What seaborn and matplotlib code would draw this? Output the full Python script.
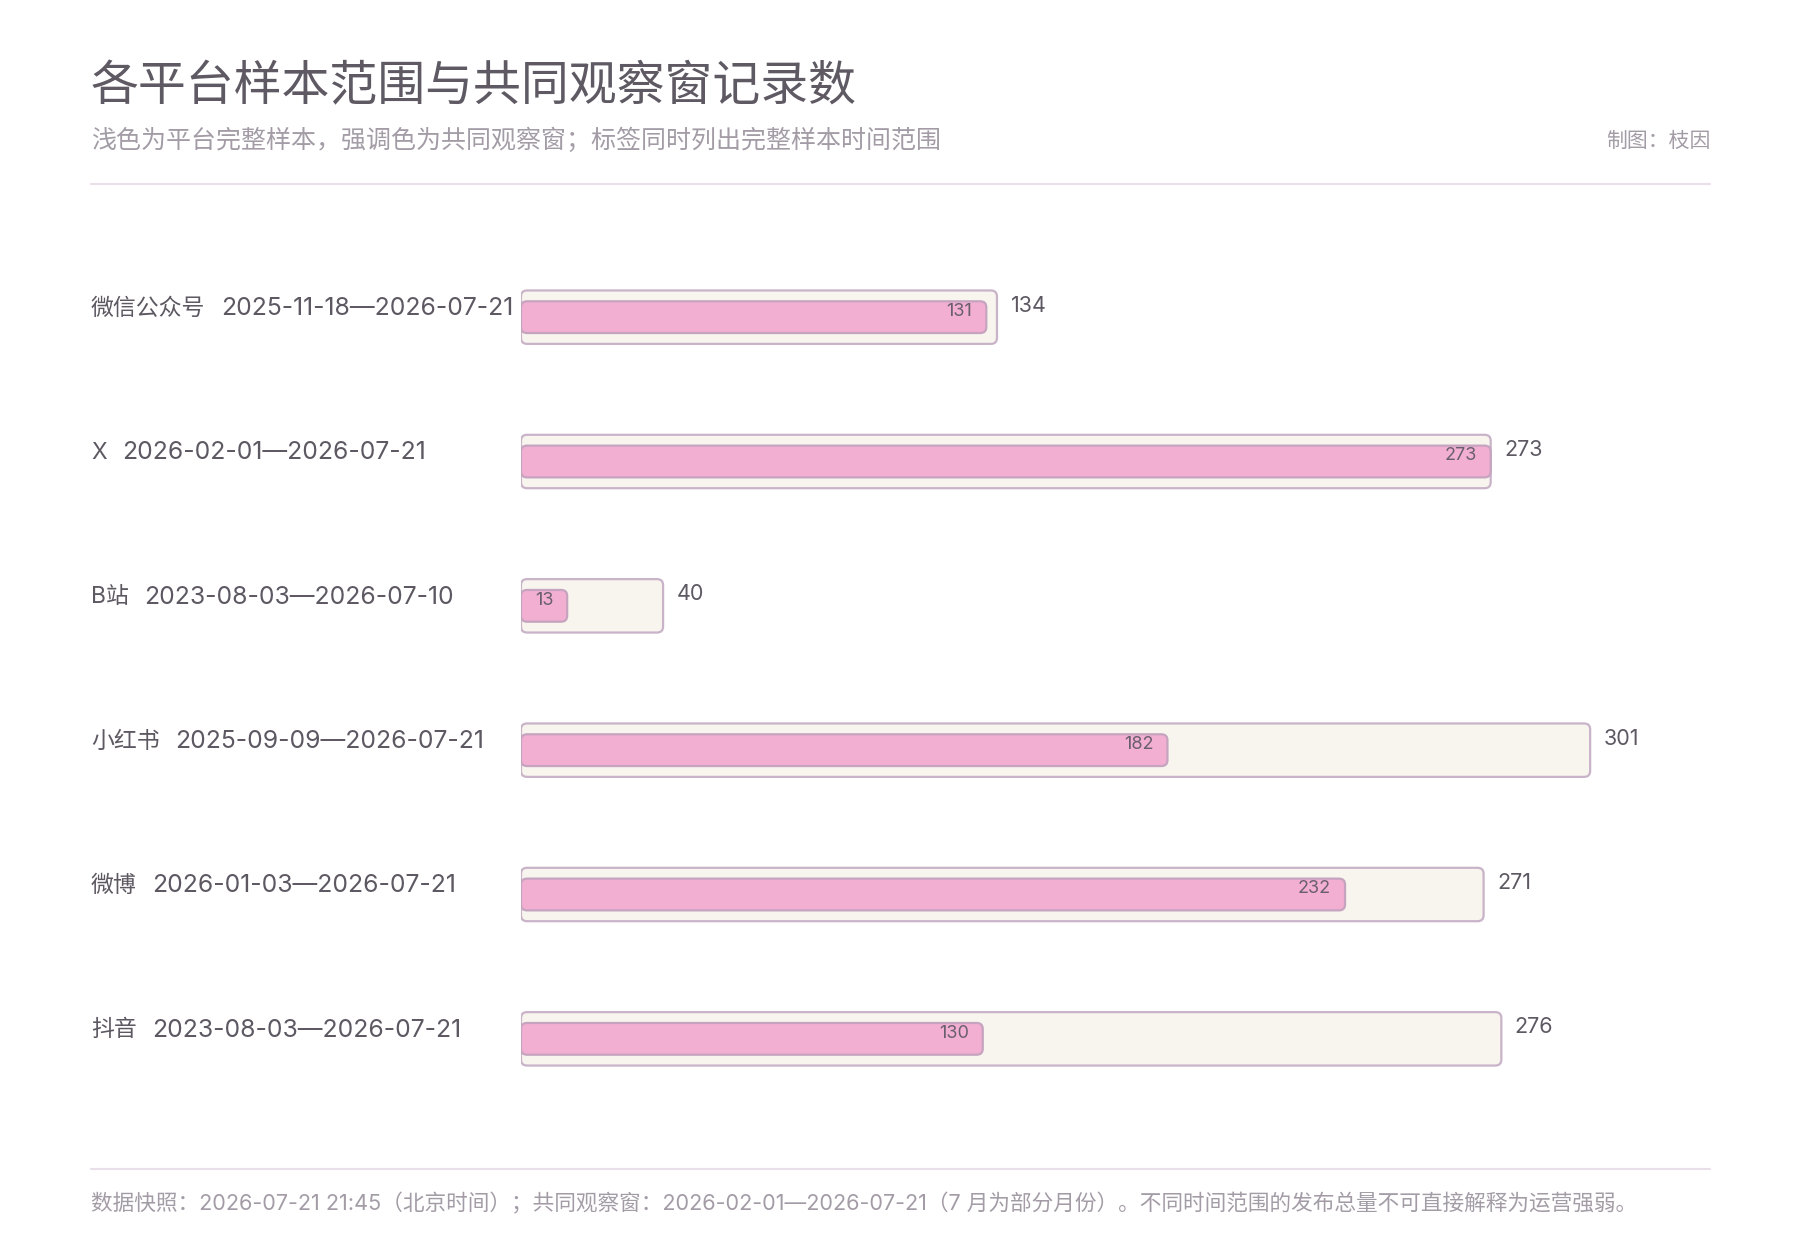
import numpy as np
import pandas as pd
import seaborn as sns
import matplotlib.pyplot as plt
from matplotlib.patches import FancyBboxPatch
import matplotlib.transforms as mtransforms

# данные
platforms = ['微信公众号', 'X', 'B站', '小红书', '微博', '抖音']
date_ranges = ['2025-11-18—2026-07-21', '2026-02-01—2026-07-21', '2023-08-03—2026-07-10',
               '2025-09-09—2026-07-21', '2026-01-03—2026-07-21', '2023-08-03—2026-07-21']
total_counts = [134, 273, 40, 301, 271, 276]
common_counts = [131, 273, 13, 182, 232, 130]

title = '各平台样本范围与共同观察窗记录数'
subtitle = '浅色为平台完整样本，强调色为共同观察窗；标签同时列出完整样本时间范围'
credit = '制图：枝因'
footer = ('数据快照：2026-07-21 21:45（北京时间）；共同观察窗：2026-02-01—2026-07-21'
          '（7 月为部分月份）。不同时间范围的发布总量不可直接解释为运营强弱。')

sns.set_style('white')
plt.rcParams['font.family'] = ['Noto Sans CJK SC', 'DejaVu Sans']
# цифры шире, как в оригинале
mixed = ['Inter', 'Noto Sans CJK SC', 'DejaVu Sans']

df = pd.DataFrame({'platform': platforms, 'total': total_counts, 'common': common_counts})

fig = plt.figure(figsize=(18, 12.6), dpi=100)
ax = fig.add_axes([521 / 1800, 1 - 1111 / 1260, (1710 - 521) / 1800, 866 / 1260])

light_fill, light_edge = '#f8f5ee', '#c9b3c9'
pink_fill, pink_edge = '#f2afd2', '#c6a4c0'

sns.barplot(data=df, x='total', y='platform', ax=ax, width=0.37, color=light_fill, orient='h')
n_light = len(ax.patches)
sns.barplot(data=df, x='common', y='platform', ax=ax, width=0.22, color=pink_fill, orient='h')

ax.set_xlim(0, 1189 / 3.552)
ax.set_ylim(5.5, -0.5)

# скруглённые прямоугольники вместо обычных
r = 1.7
aspect = (6 / 144.4) / r
old = list(ax.patches)
for i, p in enumerate(old):
    x, y = p.get_x(), p.get_y()
    w, h = p.get_width(), p.get_height()
    light = i < n_light
    fb = FancyBboxPatch((x, y), w, h, boxstyle=f'round,pad=0,rounding_size={r}',
                        mutation_aspect=aspect,
                        facecolor=light_fill if light else pink_fill,
                        edgecolor=light_edge if light else pink_edge,
                        linewidth=1.6, zorder=2 if light else 3)
    p.remove()
    ax.add_patch(fb)

ax.axis('off')

text_col = '#5d5862'
trans = mtransforms.blended_transform_factory(fig.transFigure, ax.transData)
for i in range(len(platforms)):
    name = ax.text(91 / 1800, i - 0.06, platforms[i], transform=trans,
                   ha='left', va='center', fontsize=16.5, color=text_col, family=mixed)
    ax.annotate(date_ranges[i], xy=(1, 0.5), xycoords=name, xytext=(11, 0),
                textcoords='offset points', ha='left', va='center',
                fontsize=17.8, color=text_col, family=mixed)
    ax.text(total_counts[i] + 3.8, i - 0.08, str(total_counts[i]), ha='left', va='center',
            fontsize=15.5, color=text_col, family=mixed)
    ax.text(common_counts[i] - 3.9, i - 0.04, str(common_counts[i]), ha='right', va='center',
            fontsize=13, color='#6a5f6c', zorder=5, family=mixed)

fig.text(91 / 1800, 1 - 87 / 1260, title, ha='left', va='center', fontsize=34.5, color='#5e5962')
fig.text(91 / 1800, 1 - 141 / 1260, subtitle, ha='left', va='center', fontsize=18, color='#a39ca6')
fig.text(1710 / 1800, 1 - 141 / 1260, credit, ha='right', va='center', fontsize=15, color='#a39ca6')
fig.add_artist(plt.Line2D([91 / 1800, 1710 / 1800], [1 - 184 / 1260] * 2, color='#e8dfe8', lw=1.5))
fig.add_artist(plt.Line2D([91 / 1800, 1710 / 1800], [1 - 1169 / 1260] * 2, color='#e8dfe8', lw=1.5))
fig.text(91 / 1800, 1 - 1203 / 1260, footer, ha='left', va='center', fontsize=15.6, color='#a39ca6',
         family=mixed)

fig.savefig('out.png', dpi=100, facecolor='white')
